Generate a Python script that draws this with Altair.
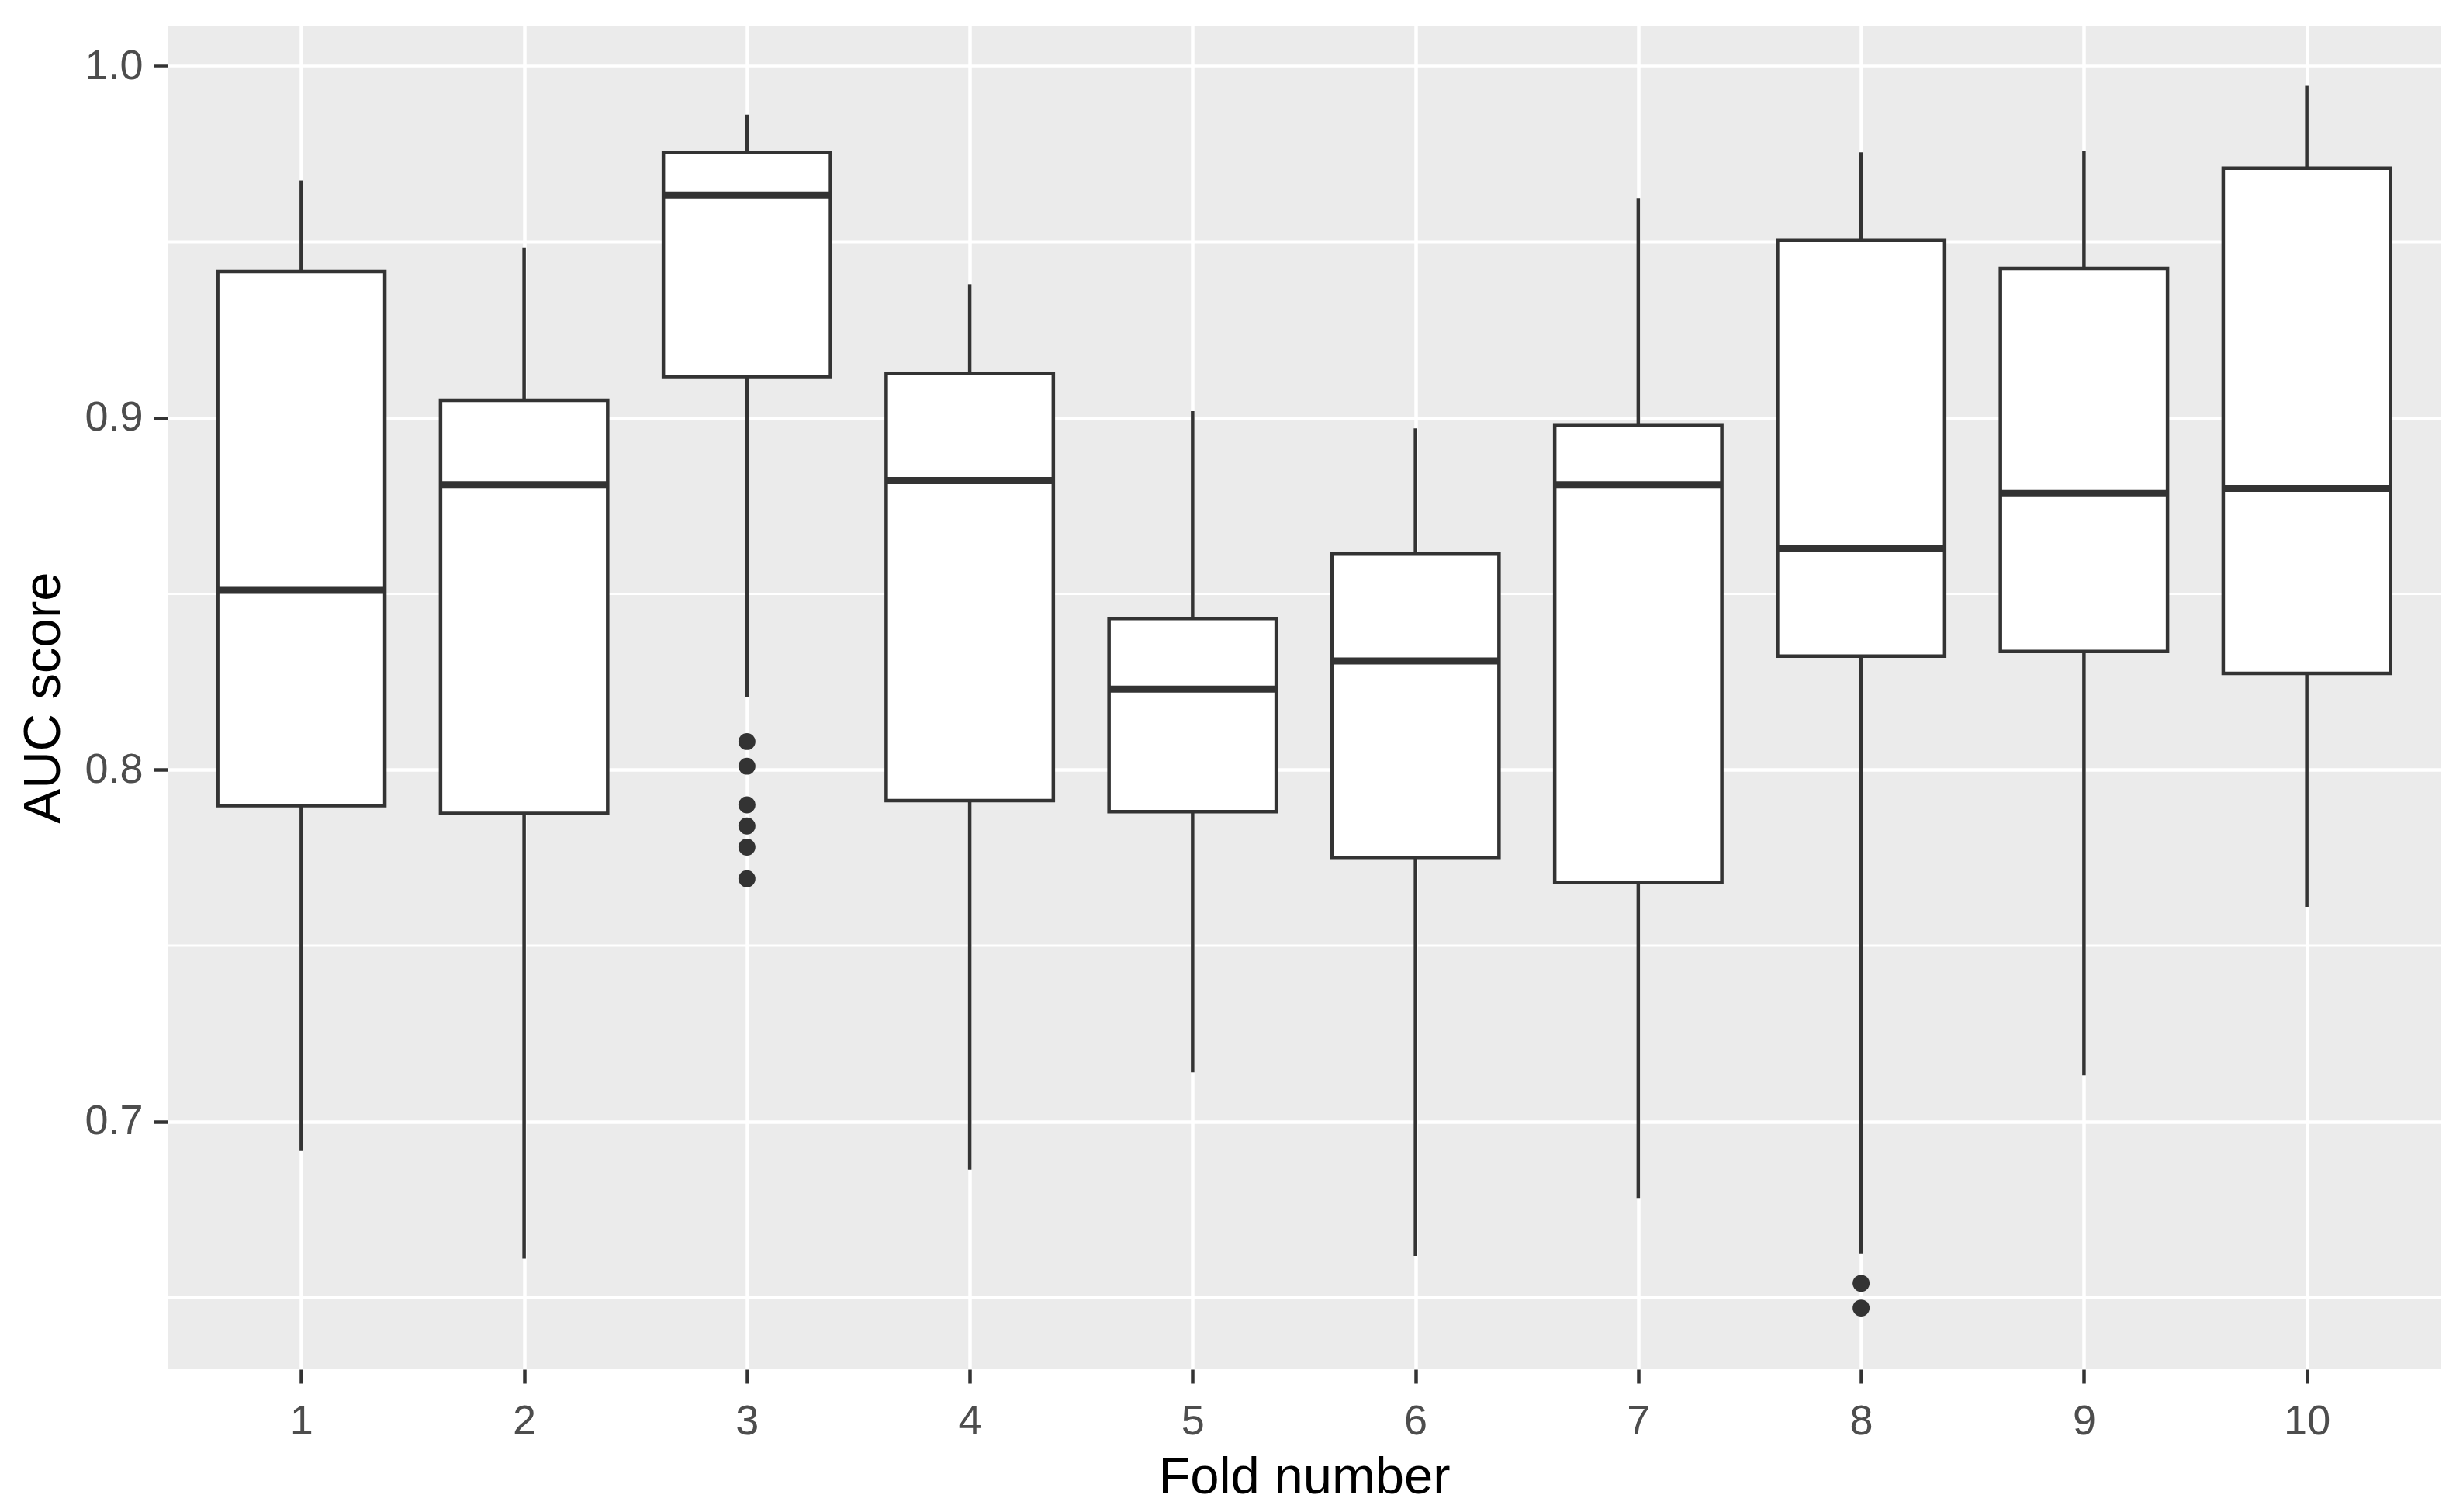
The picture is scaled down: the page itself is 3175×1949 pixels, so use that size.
import altair as alt
import pandas as pd

folds = [1, 2, 3, 4, 5, 6, 7, 8, 9, 10]
whisker_low = [0.6916, 0.661, 0.8206, 0.6863, 0.714, 0.6618, 0.6783, 0.6625, 0.7131, 0.761]
q1 = [0.7898, 0.7876, 0.9117, 0.7912, 0.7881, 0.7751, 0.768, 0.8323, 0.8336, 0.8274]
median = [0.851, 0.881, 0.9634, 0.8822, 0.8229, 0.8309, 0.881, 0.863, 0.8787, 0.88]
q3 = [0.9416, 0.905, 0.9755, 0.9126, 0.843, 0.8613, 0.898, 0.9505, 0.9425, 0.971]
whisker_high = [0.9675, 0.9483, 0.9862, 0.938, 0.9019, 0.897, 0.9625, 0.9755, 0.9759, 0.9944]

outlier_fold = [3, 3, 3, 3, 3, 3, 8, 8]
outlier_value = [0.808, 0.801, 0.790, 0.784, 0.778, 0.769, 0.654, 0.647]

major_ticks = [0.7, 0.8, 0.9, 1.0]
minor_ticks = [0.65, 0.75, 0.85, 0.95]

box_df = pd.DataFrame({
    "fold": folds, "lo": whisker_low, "q1": q1, "med": median, "q3": q3, "hi": whisker_high,
})
out_df = pd.DataFrame({"fold": outlier_fold, "value": outlier_value})
minor_df = pd.DataFrame({"v": minor_ticks})

DARK = "#333333"
FONT = "Liberation Sans"

xscale = alt.Scale(domain=[0.4, 10.6], nice=False, zero=False)
yscale = alt.Scale(domain=[0.6296, 1.0115], nice=False, zero=False)

x_axis = alt.Axis(
    values=folds, format="d", title="Fold number",
    grid=True, gridColor="white", gridWidth=4.5,
    domain=False, tickColor=DARK, tickWidth=4.5, tickSize=18,
    labelFont=FONT, labelFontSize=54, labelColor="#4D4D4D", labelPadding=22,
    titleFont=FONT, titleFontSize=67, titleColor="black", titleFontWeight="normal",
    titlePadding=12,
)
y_axis = alt.Axis(
    values=major_ticks, format=".1f", title="AUC score",
    grid=True, gridColor="white", gridWidth=4.5,
    domain=False, tickColor=DARK, tickWidth=4.5, tickSize=18,
    labelFont=FONT, labelFontSize=54, labelColor="#4D4D4D", labelPadding=14,
    titleFont=FONT, titleFontSize=67, titleColor="black", titleFontWeight="normal",
    titlePadding=18,
)

base = alt.Chart(box_df)

minor = alt.Chart(minor_df).mark_rule(color="white", strokeWidth=3).encode(
    y=alt.Y("v:Q", scale=yscale, axis=y_axis),
)

whisk_lo = base.mark_rule(color=DARK, strokeWidth=4.5).encode(
    x=alt.X("fold:Q", scale=xscale, axis=x_axis),
    y=alt.Y("lo:Q", scale=yscale, axis=y_axis),
    y2="q1:Q",
)
whisk_hi = base.mark_rule(color=DARK, strokeWidth=4.5).encode(
    x=alt.X("fold:Q", scale=xscale, axis=x_axis),
    y=alt.Y("q3:Q", scale=yscale, axis=y_axis),
    y2="hi:Q",
)
box = base.transform_calculate(
    xl="datum.fold - 0.375", xr="datum.fold + 0.375"
).mark_rect(fill="white", stroke=DARK, strokeWidth=4.5).encode(
    x=alt.X("xl:Q", scale=xscale, axis=x_axis),
    x2="xr:Q",
    y=alt.Y("q1:Q", scale=yscale, axis=y_axis),
    y2="q3:Q",
)
med = base.transform_calculate(
    xl="datum.fold - 0.375", xr="datum.fold + 0.375"
).mark_rule(color=DARK, strokeWidth=9).encode(
    x=alt.X("xl:Q", scale=xscale, axis=x_axis),
    x2="xr:Q",
    y=alt.Y("med:Q", scale=yscale, axis=y_axis),
)
outl = alt.Chart(out_df).mark_circle(color=DARK, opacity=1, size=480).encode(
    x=alt.X("fold:Q", scale=xscale, axis=x_axis),
    y=alt.Y("value:Q", scale=yscale, axis=y_axis),
)

chart = alt.layer(minor, whisk_lo, whisk_hi, box, med, outl).properties(
    width=2930, height=1732,
    autosize=alt.AutoSizeParams(type="none"),
    padding={"left": 208, "top": 25, "right": 21, "bottom": 182},
    background="white",
).configure_view(fill="#EBEBEB", stroke=None)

chart.save("out.html", embed_options={"renderer": "svg", "actions": False})
